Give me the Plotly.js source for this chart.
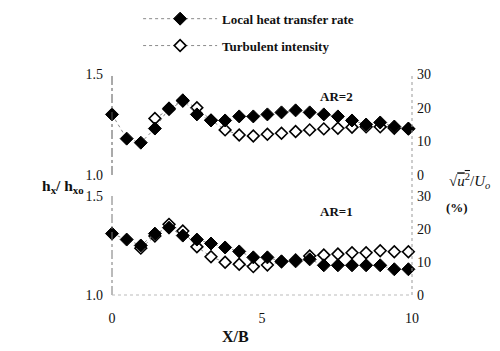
<!DOCTYPE html>
<html>
<head>
<meta charset="utf-8">
<script src="https://cdn.plot.ly/plotly-3.0.1.min.js"></script>
<style>html,body{margin:0;padding:0;background:#fff;}#chart{width:500px;height:351px;}</style>
</head>
<body>
<div id="chart"></div>
<script>
// X/B positions of the measurement stations
const xs = [0, 0.49, 0.96, 1.43, 1.9, 2.36, 2.83, 3.3, 3.77, 4.24, 4.71, 5.18, 5.65, 6.12, 6.59, 7.06, 7.53, 8.0, 8.47, 8.94, 9.41, 9.88];
// AR=2 (top panel)
const heatAR2 = [1.30, 1.18, 1.16, 1.23, 1.33, 1.37, 1.30, 1.27, 1.27, 1.29, 1.29, 1.30, 1.31, 1.32, 1.31, 1.30, 1.29, 1.27, 1.25, 1.26, 1.24, 1.23];
const turbAR2 = [null, null, null, 16.8, 19.5, 22.0, 20.0, 16.3, 13.4, 11.9, 11.6, 12.1, 12.4, 12.9, 13.4, 13.7, 13.9, 14.2, 14.3, 14.3, 13.9, 13.7];
// AR=1 (bottom panel)
const heatAR1 = [1.31, 1.28, 1.25, 1.31, 1.34, 1.30, 1.28, 1.26, 1.24, 1.22, 1.19, 1.19, 1.17, 1.17, 1.18, 1.15, 1.15, 1.15, 1.15, 1.15, 1.13, 1.13];
const turbAR1 = [null, null, 14.2, 17.9, 21.4, 19.4, 14.6, 11.6, 9.9, 9.3, 8.6, 9.1, 10.1, 10.6, 11.8, 12.1, 12.4, 12.8, 12.8, 13.4, 13.1, 13.1];
// tick labels
const xTicks = [0, 5, 10];
const hTicks = [1.0, 1.5];
const pctTicks = [0, 10, 20, 30];
const seriesNames = ['Local heat transfer rate', 'Turbulent intensity'];

const serif = 'Liberation Serif, Times New Roman, serif';
const lineStyle = {color: '#8a8a8a', width: 1, dash: 'dot'};
const filledMarker = {symbol: 'diamond', size: 10, color: '#000', line: {color: '#000', width: 1}};
const openMarker = {symbol: 'diamond', size: 9, color: '#fff', line: {color: '#000', width: 1.6}};

const traces = [
  {x: xs, y: turbAR2, xaxis: 'x2', yaxis: 'y', mode: 'lines+markers', name: seriesNames[1],
   line: lineStyle, marker: openMarker, cliponaxis: false, legendgroup: 'b', legendrank: 2, showlegend: true},
  {x: xs, y: heatAR2, xaxis: 'x2', yaxis: 'y2', mode: 'lines+markers', name: seriesNames[0],
   line: lineStyle, marker: filledMarker, cliponaxis: false, legendgroup: 'a', legendrank: 1, showlegend: true},
  {x: xs, y: turbAR1, xaxis: 'x', yaxis: 'y3', mode: 'lines+markers', name: seriesNames[1],
   line: lineStyle, marker: openMarker, cliponaxis: false, showlegend: false},
  {x: xs, y: heatAR1, xaxis: 'x', yaxis: 'y4', mode: 'lines+markers', name: seriesNames[0],
   line: lineStyle, marker: filledMarker, cliponaxis: false, showlegend: false}
];

const topDom = [0.543, 1];
const botDom = [0, 0.448];
const tickFont = {family: serif, size: 14, color: '#111'};

const pctAxis = (dom) => ({domain: dom, range: [0, 30], side: 'right', tickvals: pctTicks,
  showgrid: false, zeroline: false, showline: false, ticks: '', tickfont: tickFont, ticklabelstandoff: 4});
const hAxis = (ov) => ({range: [1.0, 1.5], side: 'left', overlaying: ov, tickvals: hTicks, tickformat: '.1f',
  showgrid: false, zeroline: false, showline: false, ticks: '', tickfont: tickFont, ticklabelstandoff: 8});

const layout = {
  width: 500, height: 351,
  margin: {l: 112, r: 88, t: 74, b: 56, autoexpand: false},
  paper_bgcolor: '#fff', plot_bgcolor: 'rgba(0,0,0,0)',
  font: {family: serif, color: '#111'},
  showlegend: true,
  legend: {x: 0.087, xanchor: 'left', y: 1.318, yanchor: 'top', traceorder: 'grouped', tracegroupgap: 7,
    itemwidth: 74, bgcolor: 'rgba(0,0,0,0)', font: {family: serif, size: 13, color: '#111', weight: 'bold'}},
  xaxis: {domain: [0, 1], anchor: 'y3', range: [0, 10], tickvals: xTicks, showgrid: false, zeroline: false,
    showline: false, ticks: 'outside', ticklen: 10, tickcolor: 'rgba(0,0,0,0)', tickfont: tickFont},
  xaxis2: {domain: [0, 1], anchor: 'y', matches: 'x', range: [0, 10], showticklabels: false, showgrid: false,
    zeroline: false, showline: false, ticks: ''},
  yaxis: pctAxis(topDom),
  yaxis2: hAxis('y'),
  yaxis3: Object.assign(pctAxis(botDom), {anchor: 'x'}),
  yaxis4: hAxis('y3'),
  shapes: [
    {type: 'line', xref: 'paper', yref: 'paper', x0: 0, x1: 0, y0: topDom[0], y1: topDom[1], line: {color: '#555', width: 1, dash: 'dashdot'}},
    {type: 'line', xref: 'paper', yref: 'paper', x0: 0, x1: 0, y0: botDom[0], y1: botDom[1], line: {color: '#777', width: 1, dash: 'dashdot'}},
    {type: 'line', xref: 'paper', yref: 'paper', x0: 1, x1: 1, y0: 0, y1: 1, line: {color: '#999', width: 1, dash: 'dot'}},
    {type: 'line', xref: 'paper', yref: 'paper', x0: 0, x1: 1, y0: 0, y1: 0, line: {color: '#bbb', width: 1, dash: 'dot'}}
  ],
  annotations: [
    {text: '<b>AR=2</b>', xref: 'paper', yref: 'paper', x: 0.81, y: 0.941, showarrow: false, font: {family: serif, size: 13, color: '#111'}},
    {text: '<b>AR=1</b>', xref: 'paper', yref: 'paper', x: 0.81, y: 0.376, showarrow: false, font: {family: serif, size: 13, color: '#111'}},
    {text: '<b>h<sub>x</sub>/ h<sub>xo</sub></b>', xref: 'paper', yref: 'paper', x: -0.24, xanchor: 'left', y: 0.49, showarrow: false, font: {family: serif, size: 15.5, color: '#111'}},
    {text: '√<span style="text-decoration:overline"><i>u</i><sup>2</sup></span>/<i>U<sub>o</sub></i>', xref: 'paper', yref: 'paper', x: 1.117, xanchor: 'left', y: 0.516, showarrow: false, font: {family: serif, size: 15, color: '#111'}},
    {text: '<b>(%)</b>', xref: 'paper', yref: 'paper', x: 1.193, y: 0.394, showarrow: false, font: {family: serif, size: 13, color: '#111'}},
    {text: '<b>X/B</b>', xref: 'paper', yref: 'paper', x: 0.41, y: -0.235, showarrow: false, font: {family: serif, size: 16, color: '#111'}}
  ]
};

Plotly.newPlot('chart', traces, layout, {displayModeBar: false, staticPlot: true});
</script>
</body>
</html>
